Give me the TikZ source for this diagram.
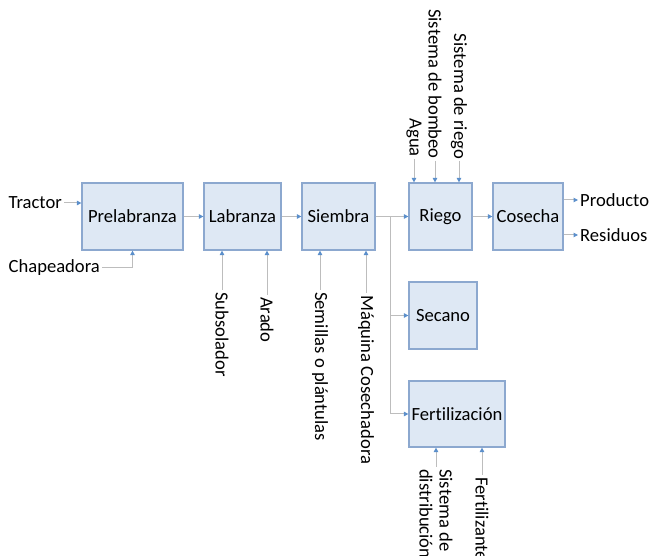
\documentclass[tikz,border=0pt]{standalone}
\usepackage{fontspec}
\setmainfont{Carlito}[Ligatures=NoCommon]
\usetikzlibrary{arrows.meta}
\definecolor{boxfill}{HTML}{DEE8F4}
\definecolor{boxline}{HTML}{8CA8CF}
\definecolor{linegray}{HTML}{BDBDBD}
\definecolor{tipblue}{HTML}{5B8FCB}
\tikzset{
  stage/.style={draw=boxline, fill=boxfill, line width=1.2pt, minimum height=67pt, inner sep=0pt},
  flow/.style={draw=linegray, line width=1pt, -{Triangle[color=tipblue, length=4.5pt, width=4.5pt]}},
  lbl/.style={inner sep=2pt},
}
\begin{document}
\begin{tikzpicture}[x=1pt, y=-1pt, font=\fontsize{18.6}{20}\selectfont]
    \useasboundingbox (0,0) rectangle (649,556);
    \node[stage, minimum width=101pt] (prelab) at (132.5,216.5) {Prelabranza};
    \node[stage, minimum width=77pt] (labranza) at (242.5,216.5) {Labranza};
    \node[stage, minimum width=73pt] (siembra) at (338.5,216.5) {Siembra};
    \node[stage, minimum width=63pt] (riego) at (440.5,216.5) {Riego};
    \node[stage, minimum width=70pt] (cosecha) at (528,216.5) {Cosecha};
    \node[stage, minimum width=68pt] (secano) at (443,315.5) {Secano};
    \node[stage, minimum width=96pt, minimum height=66pt] (fert) at (457,414) {Fertilización};

    \node[lbl, anchor=east] (tractor) at (64,203) {Tractor};
    \node[lbl, anchor=east] (chapeadora) at (102,268) {Chapeadora};
    \node[lbl, anchor=west, rotate=-90] (subsolador) at (222,290) {Subsolador};
    \node[lbl, anchor=west, rotate=-90] (arado) at (267,295) {Arado};
    \node[lbl, anchor=west, rotate=-90] (semillas) at (320,290) {Semillas o plántulas};
    \node[lbl, anchor=west, rotate=-90] (maquina) at (366,293) {Máquina Cosechadora};
    \node[lbl, anchor=east, rotate=-90] (agua) at (414,159) {Agua};
    \node[lbl, anchor=east, rotate=-90] (bombeo) at (435,161) {Sistema de bombeo};
    \node[lbl, anchor=east, rotate=-90] (sriego) at (459,161) {Sistema de riego};
    \node[lbl, anchor=west, rotate=-90, align=left] (distrib) at (436,467) {Sistema de\\distribución};
    \node[lbl, anchor=west, rotate=-90] (fertilizantes) at (482,475) {Fertilizantes};
    \node[lbl, anchor=west] (producto) at (578,200) {Producto};
    \node[lbl, anchor=west] (residuos) at (578,235) {Residuos};
    \coordinate (split) at (390,216.5);

    \draw[flow] (prelab) -- (labranza);
    \draw[flow] (labranza) -- (siembra);
    \draw[flow] (siembra) -- (riego);
    \draw[flow] (riego) -- (cosecha);
    \draw[flow] (split) |- (secano);
    \draw[flow] (split) |- (fert);
    \draw[flow] (tractor.east) -- (tractor.east -| prelab.west);
    \draw[flow] (chapeadora.east) -| (prelab.south);
    \draw[flow] (subsolador.west) -- (subsolador.west |- labranza.south);
    \draw[flow] (arado.west) -- (arado.west |- labranza.south);
    \draw[flow] (semillas.west) -- (semillas.west |- siembra.south);
    \draw[flow] (maquina.west) -- (maquina.west |- siembra.south);
    \draw[flow] (agua.east) -- (agua.east |- riego.north);
    \draw[flow] (bombeo.east) -- (bombeo.east |- riego.north);
    \draw[flow] (sriego.east) -- (sriego.east |- riego.north);
    \draw[flow] (distrib.west) -- (distrib.west |- fert.south);
    \draw[flow] (fertilizantes.west) -- (fertilizantes.west |- fert.south);
    \draw[flow] (producto.west -| cosecha.east) -- (producto.west);
    \draw[flow] (residuos.west -| cosecha.east) -- (residuos.west);
\end{tikzpicture}
\end{document}
